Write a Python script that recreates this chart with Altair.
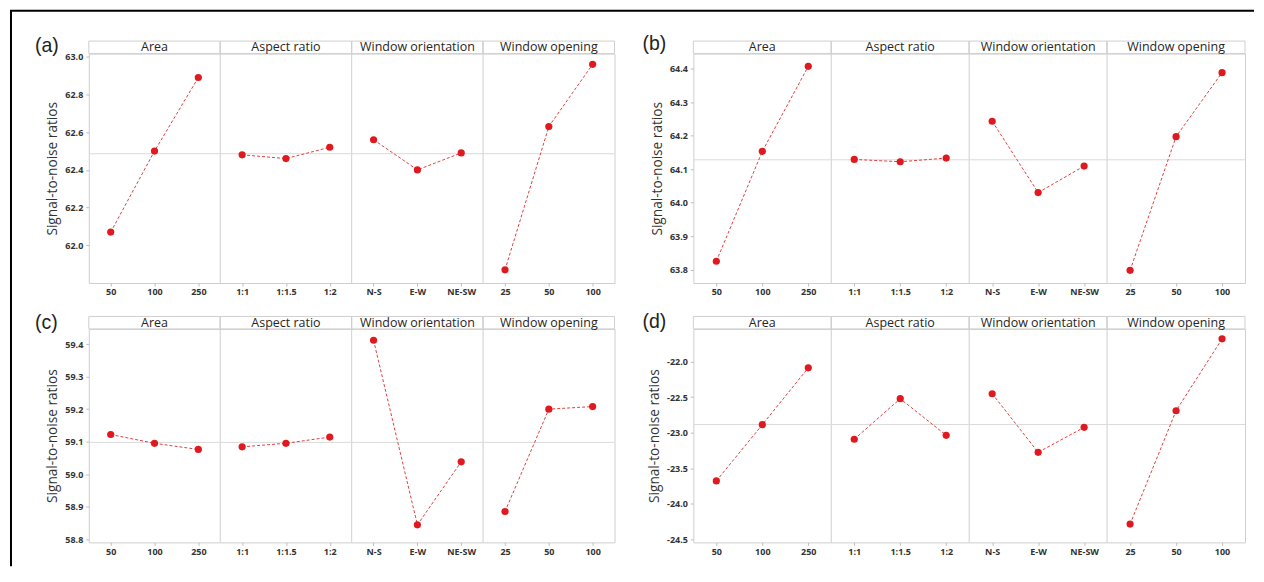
import altair as alt
import pandas as pd

factors = ["Area", "Aspect ratio", "Window orientation", "Window opening"]
levels = [["50", "100", "250"], ["1:1", "1:1.5", "1:2"], ["N-S", "E-W", "NE-SW"], ["25", "50", "100"]]
panel_labels = ["(a)", "(b)", "(c)", "(d)"]
y_title = "Signal-to-noise ratios"

sn_a = [62.07, 62.50, 62.89, 62.48, 62.46, 62.52, 62.56, 62.40, 62.49, 61.87, 62.63, 62.96]
sn_b = [63.825, 64.153, 64.407, 64.129, 64.122, 64.133, 64.243, 64.030, 64.109, 63.798, 64.197, 64.388]
sn_c = [59.122, 59.095, 59.076, 59.084, 59.095, 59.114, 59.412, 58.844, 59.038, 58.885, 59.200, 59.208]
sn_d = [-23.678, -22.888, -22.089, -23.093, -22.523, -23.037, -22.453, -23.276, -22.925, -24.285, -22.692, -21.682]

ticks_a = [62.0, 62.2, 62.4, 62.6, 62.8, 63.0]
ticks_b = [63.8, 63.9, 64.0, 64.1, 64.2, 64.3, 64.4]
ticks_c = [58.8, 58.9, 59.0, 59.1, 59.2, 59.3, 59.4]
ticks_d = [-24.5, -24.0, -23.5, -23.0, -22.5, -22.0]

RED = "#e0191e"
LINE_RED = "#e04040"
FRAME = "#cfcfcf"
STRIP_H = 12.5


def panel(values, label, ticks, ydom, width, height, lab_dx, lab_dy, border=False):
    rows = []
    pos = 0
    for f, levs in zip(factors, levels):
        for lv in levs:
            rows.append(dict(factor=f, level=lv, pos=pos, sn=values[pos]))
            pos += 1
    df = pd.DataFrame(rows)
    n = len(df)
    xlabels = df["level"].tolist()
    label_expr = "[" + ",".join("'" + s + "'" for s in xlabels) + "][datum.value]"

    g = df.groupby("factor", sort=False)["pos"]
    strips = pd.DataFrame({"factor": factors,
                           "pos": [g.min()[f] - 0.5 for f in factors],
                           "pos_end": [g.max()[f] + 0.5 for f in factors]})
    mids = pd.DataFrame({"factor": factors,
                         "pos": [(g.min()[f] + g.max()[f]) / 2 for f in factors]})
    dividers = strips.iloc[1:][["pos"]]
    mean_df = pd.DataFrame({"sn": [df["sn"].mean()]})

    X = alt.X("pos:Q", title=None,
              scale=alt.Scale(domain=[-0.5, n - 0.5], nice=False, zero=False),
              axis=alt.Axis(values=df["pos"].tolist(), labelExpr=label_expr,
                            grid=False, domain=False, tickSize=3, labelPadding=2))
    Y = alt.Y("sn:Q", title=y_title,
              scale=alt.Scale(domain=ydom, nice=False, zero=False),
              axis=alt.Axis(values=ticks, grid=False, domain=False, tickSize=3,
                            labelPadding=3, titlePadding=5,
                            labelExpr="replace(format(datum.value, '.1f'), '\u2212', '-')"))

    strip_rect = alt.Chart(strips).mark_rect(fill="white", stroke=FRAME, strokeWidth=1).encode(
        x=X, x2=alt.X2("pos_end:Q", title=None),
        y=alt.value(-STRIP_H), y2=alt.value(0))
    div_rule = alt.Chart(dividers).mark_rule(color=FRAME, strokeWidth=1).encode(
        x=X, y=alt.value(-STRIP_H), y2=alt.value(height))
    strip_text = alt.Chart(mids).mark_text(font="Open Sans", fontSize=12.5, color="#262626",
                                           baseline="middle").encode(
        x=X, y=alt.value(-STRIP_H / 2), text="factor:N")
    mean_rule = alt.Chart(mean_df).mark_rule(color="#dadada", strokeWidth=1).encode(
        y=Y, x=alt.value(0), x2=alt.value(width))
    line = alt.Chart(df).mark_line(color=LINE_RED, strokeWidth=1, strokeDash=[3, 2]).encode(
        x=X, y=Y, detail="factor:N")
    pts = alt.Chart(df).mark_circle(color=RED, size=52, opacity=1).encode(x=X, y=Y)
    lab = alt.Chart(pd.DataFrame({"t": [label]})).mark_text(
        font="Liberation Sans", fontSize=19.5, color="#222222", align="left", baseline="middle").encode(
        x=alt.value(lab_dx), y=alt.value(lab_dy), text="t:N")

    layers = [strip_rect, div_rule, strip_text, mean_rule, line, pts, lab]
    if border:
        left_b = alt.Chart(pd.DataFrame({"k": [0]})).mark_rule(color="black", strokeWidth=2).encode(
            x=alt.value(-78), y=alt.value(-43), y2=alt.value(514))
        top_b = alt.Chart(pd.DataFrame({"k": [0]})).mark_rule(color="black", strokeWidth=2).encode(
            x=alt.value(-79), x2=alt.value(1168), y=alt.value(-43))
        layers += [left_b, top_b]
    return alt.layer(*layers).properties(width=width, height=height)


pa = panel(sn_a, panel_labels[0], ticks_a, [61.8, 63.017], 527, 230, -54, -8, border=True)
pb = panel(sn_b, panel_labels[1], ticks_b, [63.760, 64.445], 553, 230, -51, -9.5)
pc = panel(sn_c, panel_labels[2], ticks_c, [58.79, 59.447], 527, 214, -54, -5.5)
pd_ = panel(sn_d, panel_labels[3], ticks_d, [-24.542, -21.542], 553, 214, -51, -7)

chart = alt.concat(pa, pb, pc, pd_, columns=2, spacing={"row": 46, "column": 79},
                   bounds="flush").properties(padding=0).configure_view(
    stroke=FRAME, strokeWidth=1).configure_axis(
    labelFont="Open Sans", labelFontWeight="bold", labelFontSize=9, labelColor="#333333",
    tickColor="#bdbdbd", titleFont="Open Sans", titleFontSize=13.7, titleFontWeight="normal",
    titleColor="#333333")

chart.save("out.html", embed_options={"renderer": "svg", "actions": False})
